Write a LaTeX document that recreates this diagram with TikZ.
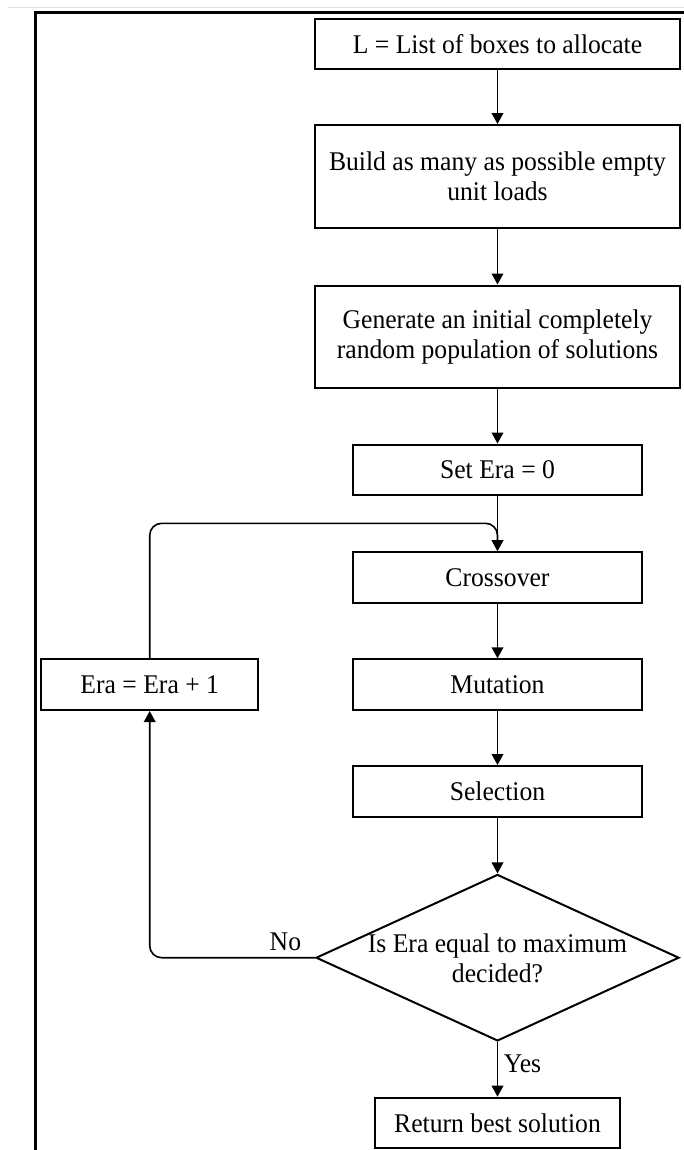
\documentclass[tikz,border=0pt]{standalone}
\usepackage{fontspec}
\setmainfont{Liberation Serif}[FakeStretch=0.95]
\usetikzlibrary{arrows.meta,shapes.geometric}
\begin{document}
\begin{tikzpicture}[x=0.5pt,y=-0.5pt,
  every node/.style={font=\fontsize{13.5}{15}\selectfont, text=black},
  box/.style={draw, line width=1pt, rectangle, inner sep=0pt, align=center},
  decision/.style={draw, line width=1pt, diamond, inner sep=0pt},
  conn/.style={line width=0.8pt, -{Triangle[length=5.5pt,width=5.8pt]}},
  lbl/.style={inner sep=0pt}
]
\useasboundingbox (0,0) rectangle (684,1150);

% page rules
\draw[gray!25, line width=0.75pt] (8,7.5) -- (690,7.5);
\draw[line width=1.5pt] (35.7,1156) -- (35.7,12.7) -- (690,12.7);

% main column
\node[box, minimum width=182.5pt, minimum height=25.2pt] (list) at (497.5,44.2) {L = List of boxes to allocate};
\node[box, minimum width=182.5pt, minimum height=51.6pt] (build) at (497.5,176.7) {Build as many as possible empty\\unit loads};
\node[box, minimum width=182.5pt, minimum height=51.1pt] (gen) at (497.5,336.6) {Generate an initial completely\\random population of solutions};
\node[box, minimum width=144.5pt, minimum height=25.25pt] (set) at (497.5,469.8) {Set Era = 0};
\node[box, minimum width=144.5pt, minimum height=25.3pt] (cross) at (497.5,577.3) {Crossover};
\node[box, minimum width=144.5pt, minimum height=25.35pt] (mut) at (497.5,684.7) {Mutation};
\node[box, minimum width=144.5pt, minimum height=25.65pt] (sel) at (497.5,791.7) {Selection};
\node[decision, minimum width=181.5pt, minimum height=83.25pt] (dec) at (497.5,957.7) {};
\node[align=center, inner sep=0pt] (dectext) at (497.5,958.5) {Is Era equal to maximum\\decided?};
\node[box, minimum width=122.2pt, minimum height=25.3pt] (ret) at (497.5,1123) {Return best solution};

% side box of the loop
\node[box, minimum width=108.7pt, minimum height=25.35pt] (era) at (149.7,684.7) {Era = Era + 1};
\coordinate (join) at (497.5,523.3);

% connectors
\draw[conn] (list.south) -- (build.north);
\draw[conn] (build.south) -- (gen.north);
\draw[conn] (gen.south) -- (set.north);
\draw[conn] (set.south) -- (cross.north);
\draw[conn] (cross.south) -- (mut.north);
\draw[conn] (mut.south) -- (sel.north);
\draw[conn] (sel.south) -- (dec.north);
\draw[conn] (dec.south) -- node[lbl, pos=0.56, anchor=base west, xshift=2.75pt] {Yes} (ret.north);
\draw[conn, rounded corners=6pt] (dec.west) -| node[lbl, pos=0.0895, anchor=base, yshift=3.5pt] {No} (era.south);
\draw[conn, rounded corners=6pt] (era.north) |- (join) -- (cross.north);
\end{tikzpicture}
\end{document}
